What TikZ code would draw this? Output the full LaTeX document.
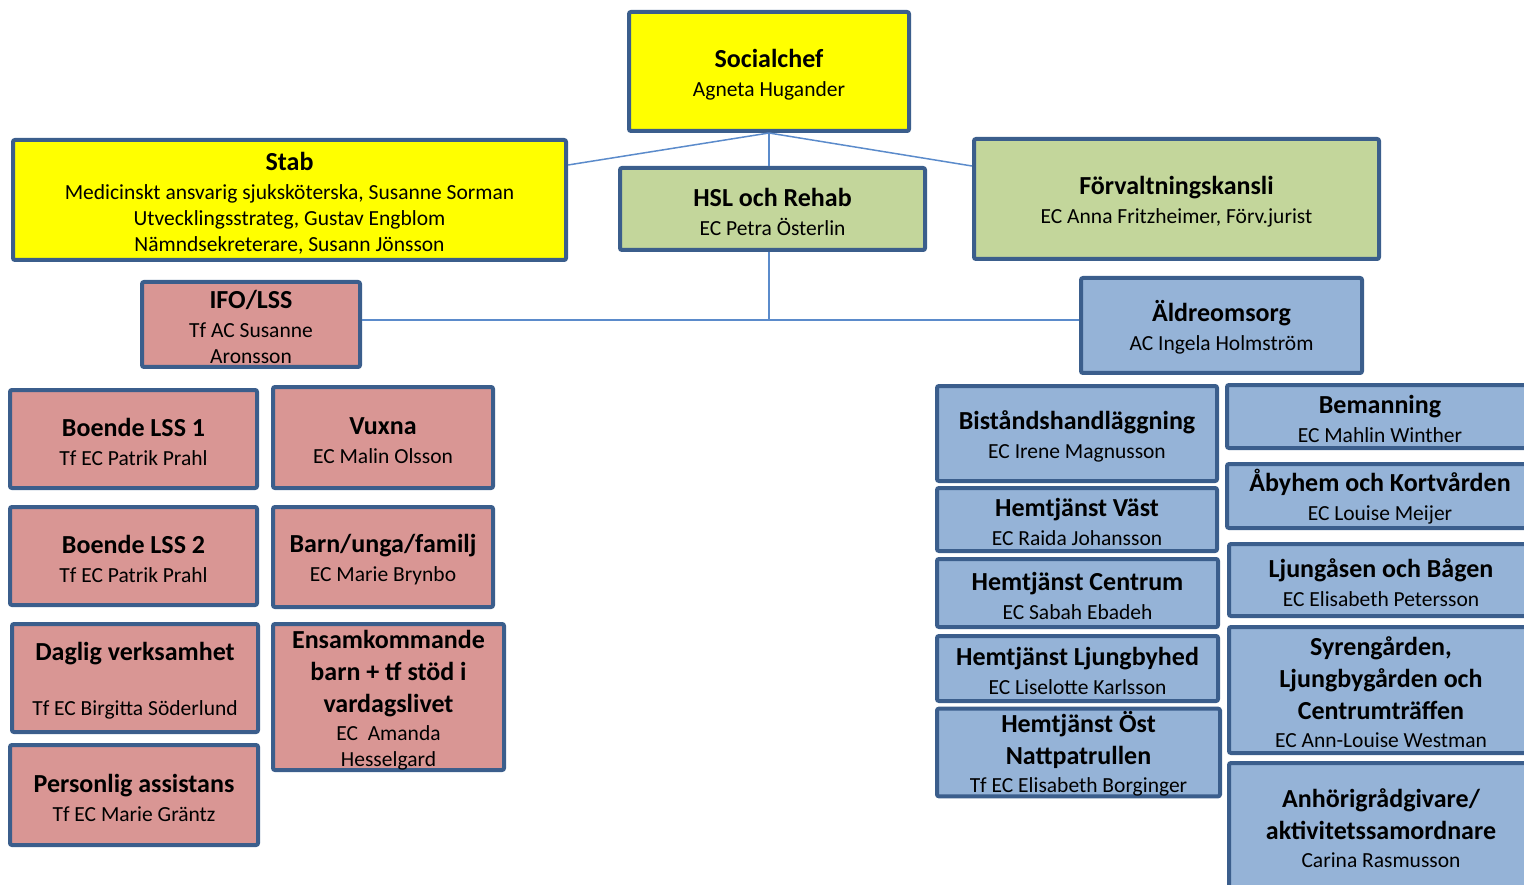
\documentclass[tikz,border=0pt]{standalone}
\usepackage{fontspec}
\setmainfont{Carlito}
\definecolor{orgyellow}{HTML}{FFFF00}
\definecolor{orggreen}{HTML}{C3D69B}
\definecolor{orgpink}{HTML}{D99694}
\definecolor{orgblue}{HTML}{95B3D7}
\definecolor{orgedge}{HTML}{3B5E8C}
\definecolor{orgline}{HTML}{5B8BCB}
% title and subtitle fonts
\newcommand{\ttl}{\fontsize{26}{31}\selectfont\bfseries}
\newcommand{\sbt}{\fontsize{21.5}{26}\selectfont}
% first title line of a unit, with a strut for the top margin
\newcommand{\hd}[1]{{\ttl\rule{0pt}{24pt}#1}}
\begin{document}
\begin{tikzpicture}[x=1pt,y=-1pt,
  unit/.style={draw=orgedge, line width=4pt, rounded corners=2pt, inner sep=0pt,
    align=center, font=\sbt, text=black},
  conn/.style={draw=orgline, line width=1.5pt}]
\useasboundingbox (0,0) rectangle (1524,885);
\begin{scope}
\clip (0,0) rectangle (1524,885);

% top level
\node[unit, fill=orgyellow, minimum width=280, minimum height=119] (soc) at (769,71.5)
  {\hd{Socialchef}\\[3pt]Agneta Hugander};
\node[unit, fill=orgyellow, minimum width=553, minimum height=120] (stab) at (289.5,200)
  {\hd{Stab}\\[3pt]Medicinskt ansvarig sjuksköterska, Susanne Sorman\\Utvecklingsstrateg, Gustav Engblom\\Nämndsekreterare, Susann Jönsson};
\node[unit, fill=orggreen, minimum width=305, minimum height=82] (hsl) at (772.5,209)
  {\hd{HSL och Rehab}\\[3pt]EC Petra Österlin};
\node[unit, fill=orggreen, minimum width=405, minimum height=120] (forv) at (1176.5,199)
  {\hd{Förvaltningskansli}\\[3pt]EC Anna Fritzheimer, Förv.jurist};

% second level
\node[unit, fill=orgpink, minimum width=218, minimum height=85] (ifo) at (251,324.5)
  {\hd{IFO/LSS}\\[3pt]Tf AC Susanne\\Aronsson};
\node[unit, fill=orgblue, minimum width=281, minimum height=95] (aldre) at (1221.5,325.5)
  {\hd{Äldreomsorg}\\[3pt]AC Ingela Holmström};

% IFO/LSS units
\node[unit, fill=orgpink, minimum width=247, minimum height=98] (lss1) at (133.5,439)
  {\hd{Boende LSS 1}\\[3pt]Tf EC Patrik Prahl};
\node[unit, fill=orgpink, minimum width=220, minimum height=101] (vuxna) at (383,437.5)
  {\hd{Vuxna}\\[3pt]EC Malin Olsson};
\node[unit, fill=orgpink, minimum width=247, minimum height=98] (lss2) at (133.5,556)
  {\hd{Boende LSS 2}\\[3pt]Tf EC Patrik Prahl};
\node[unit, fill=orgpink, minimum width=220, minimum height=100] (barn) at (383,557)
  {\hd{Barn/unga/familj}\\[3pt]EC Marie Brynbo};
\node[unit, fill=orgpink, minimum width=246, minimum height=108] (daglig) at (135,678)
  {\hd{Daglig verksamhet}\\[29pt]Tf EC Birgitta Söderlund};
\node[unit, fill=orgpink, minimum width=231, minimum height=146] (ensam) at (388.5,697)
  {\hd{Ensamkommande}\\[6pt]{\ttl barn + tf stöd i}\\[6pt]{\ttl vardagslivet}\\[2pt]EC\ \ Amanda\\Hesselgard};
\node[unit, fill=orgpink, minimum width=248, minimum height=100] (assist) at (134,795)
  {\hd{Personlig assistans}\\[3pt]Tf EC Marie Gräntz};

% Äldreomsorg units, left column
\node[unit, fill=orgblue, minimum width=280, minimum height=95] (bist) at (1077,433.5)
  {\hd{Biståndshandläggning}\\[3pt]EC Irene Magnusson};
\node[unit, fill=orgblue, minimum width=280, minimum height=63] (vast) at (1077,519.5)
  {\hd{Hemtjänst Väst}\\[3pt]EC Raida Johansson};
\node[unit, fill=orgblue, minimum width=281, minimum height=68] (centrum) at (1077.5,593)
  {\hd{Hemtjänst Centrum}\\[3pt]EC Sabah Ebadeh};
\node[unit, fill=orgblue, minimum width=281, minimum height=65] (ljhed) at (1077.5,668.5)
  {\hd{Hemtjänst Ljungbyhed}\\[3pt]EC Liselotte Karlsson};
\node[unit, fill=orgblue, minimum width=283, minimum height=87] (ost) at (1078.5,752.5)
  {\hd{Hemtjänst Öst}\\[6pt]{\ttl Nattpatrullen}\\[2pt]Tf EC Elisabeth Borginger};

% Äldreomsorg units, right column
\node[unit, fill=orgblue, minimum width=306, minimum height=63] (beman) at (1380,416.5)
  {\hd{Bemanning}\\[3pt]EC Mahlin Winther};
\node[unit, fill=orgblue, minimum width=306, minimum height=64] (abyhem) at (1380,496)
  {\hd{Åbyhem och Kortvården}\\[3pt]EC Louise Meijer};
\node[unit, fill=orgblue, minimum width=304, minimum height=72] (ljung) at (1381,580)
  {\hd{Ljungåsen och Bågen}\\[3pt]EC Elisabeth Petersson};
\node[unit, fill=orgblue, minimum width=304, minimum height=126] (syren) at (1381,690)
  {\hd{Syrengården,}\\[6pt]{\ttl Ljungbygården och}\\[6pt]{\ttl Centrumträffen}\\[2pt]EC Ann-Louise Westman};
\node[unit, fill=orgblue, minimum width=304, minimum height=125] (anhor) at (1381,825.5)
  {\hd{Anhörigrådgivare/}\\[6pt]{\ttl aktivitetssamordnare}\\[2pt]Carina Rasmusson};

% connectors
\coordinate (junc) at (soc.south |- 0,320);
\draw[conn] (soc.south) -- ([yshift=35pt]stab.east);
\draw[conn] (soc.south) -- ([yshift=33pt]forv.west);
\draw[conn] (soc.south) -- (soc.south |- hsl.north);
\draw[conn] (soc.south |- hsl.south) -- (junc);
\draw[conn] (ifo.east |- junc) -- (aldre.west |- junc);
\end{scope}
\end{tikzpicture}
\end{document}
